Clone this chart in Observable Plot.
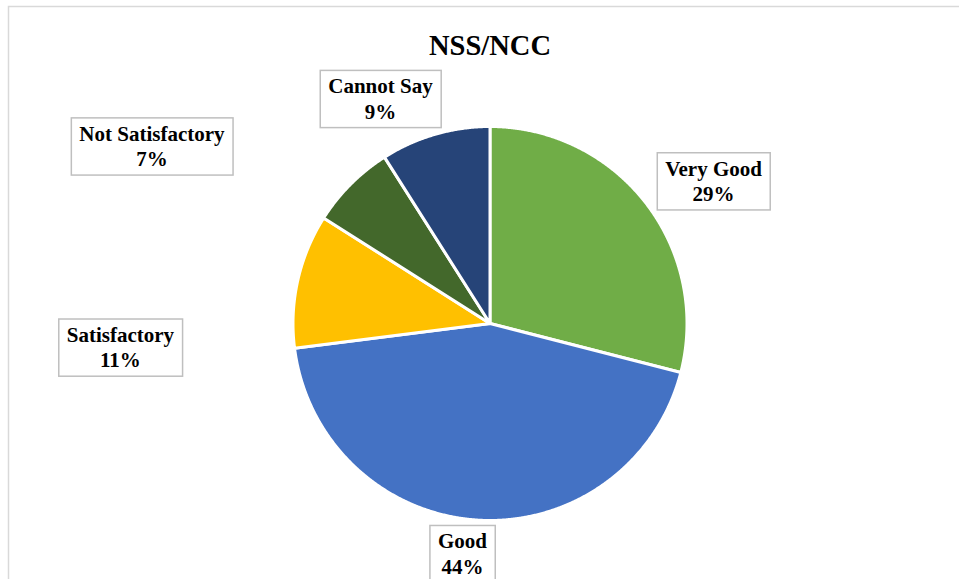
<!DOCTYPE html>
<html><head><meta charset="utf-8">
<script src="https://cdn.jsdelivr.net/npm/d3@7"></script>
<script src="https://cdn.jsdelivr.net/npm/@observablehq/plot@0.6"></script>
<style>html,body{margin:0;padding:0;overflow:hidden;background:#fff}</style>
</head><body><div id="chart"></div>
<script>
// ---- data ----
const title = "NSS/NCC";
const categories = ["Very Good", "Good", "Satisfactory", "Not Satisfactory", "Cannot Say"];
const values = [29, 44, 11, 7, 9];
const colors = ["#70AD47", "#4472C4", "#FFC000", "#43682B", "#264478"];
// label placement (in pie-radius units, relative to pie centre)
const labelX = [1.135, -0.140, -1.876, -1.716, -0.556];
const labelY = [0.727, -1.165, -0.117, 0.904, 1.145];
const titlePos = {x: 0, y: 1.41};

// ---- layout ----
const W = 959, H = 579, R = 197, cx = 489.5, cy = 323;
const serif = "Liberation Serif, Times New Roman, serif";

const data = categories.map((c, i) => ({category: c, value: values[i]}));
const arcs = d3.pie().sort(null).value(d => d.value)(data);
const pts = [];
arcs.forEach(a => {
  const n = Math.max(4, Math.ceil((a.endAngle - a.startAngle) / 0.005));
  pts.push({category: a.data.category, x: 0, y: 0});
  for (let k = 0; k <= n; k++) {
    const t = a.startAngle + (a.endAngle - a.startAngle) * k / n;
    pts.push({category: a.data.category, x: Math.sin(t), y: Math.cos(t)});
  }
  pts.push({category: a.data.category, x: 0, y: 0});
});
const labels = data.map((d, i) => ({...d, lx: labelX[i], ly: labelY[i]}));

const chart = Plot.plot({
  width: W, height: H,
  margin: 0,
  x: {domain: [-cx / R, (W - cx) / R], axis: null},
  y: {domain: [-(H - cy) / R, cy / R], axis: null},
  color: {domain: categories, range: colors},
  style: {background: "white", overflow: "hidden", fontFamily: serif},
  marks: [
    Plot.frame({stroke: "#d9d9d9", strokeWidth: 1.5, insetLeft: 8, insetTop: 6, insetRight: -20, insetBottom: -20}),
    Plot.line(pts, {x: "x", y: "y", z: "category", fill: "category", stroke: "white", strokeWidth: 3, strokeLinejoin: "round"}),
    Plot.text([title], {x: () => titlePos.x, y: () => titlePos.y, text: d => d, fontFamily: serif, fontSize: 28.5, fontWeight: "bold", fill: "black"}),
    Plot.text(labels, {x: "lx", y: "ly", text: d => d.category + "\n" + d.value + "%", fontFamily: serif, fontSize: 21, fontWeight: "bold", lineHeight: 1.2, fill: "black"})
  ]
});
document.getElementById("chart").appendChild(chart);

// label boxes
const groups = chart.querySelectorAll("g[aria-label='text']");
const labelGroup = groups[groups.length - 1];
labelGroup.querySelectorAll("text").forEach(function (t) {
  const b = t.getBBox();
  const padX = 8, padY = 4;
  const r = document.createElementNS("http://www.w3.org/2000/svg", "rect");
  r.setAttribute("x", b.x - padX);
  r.setAttribute("y", b.y - padY);
  r.setAttribute("width", b.width + 2 * padX);
  r.setAttribute("height", b.height + 2 * padY);
  r.setAttribute("fill", "white");
  r.setAttribute("stroke", "#bfbfbf");
  r.setAttribute("stroke-width", "1.5");
  const tr = t.getAttribute("transform");
  if (tr) r.setAttribute("transform", tr);
  t.parentNode.insertBefore(r, t);
});
</script>
</body></html>
